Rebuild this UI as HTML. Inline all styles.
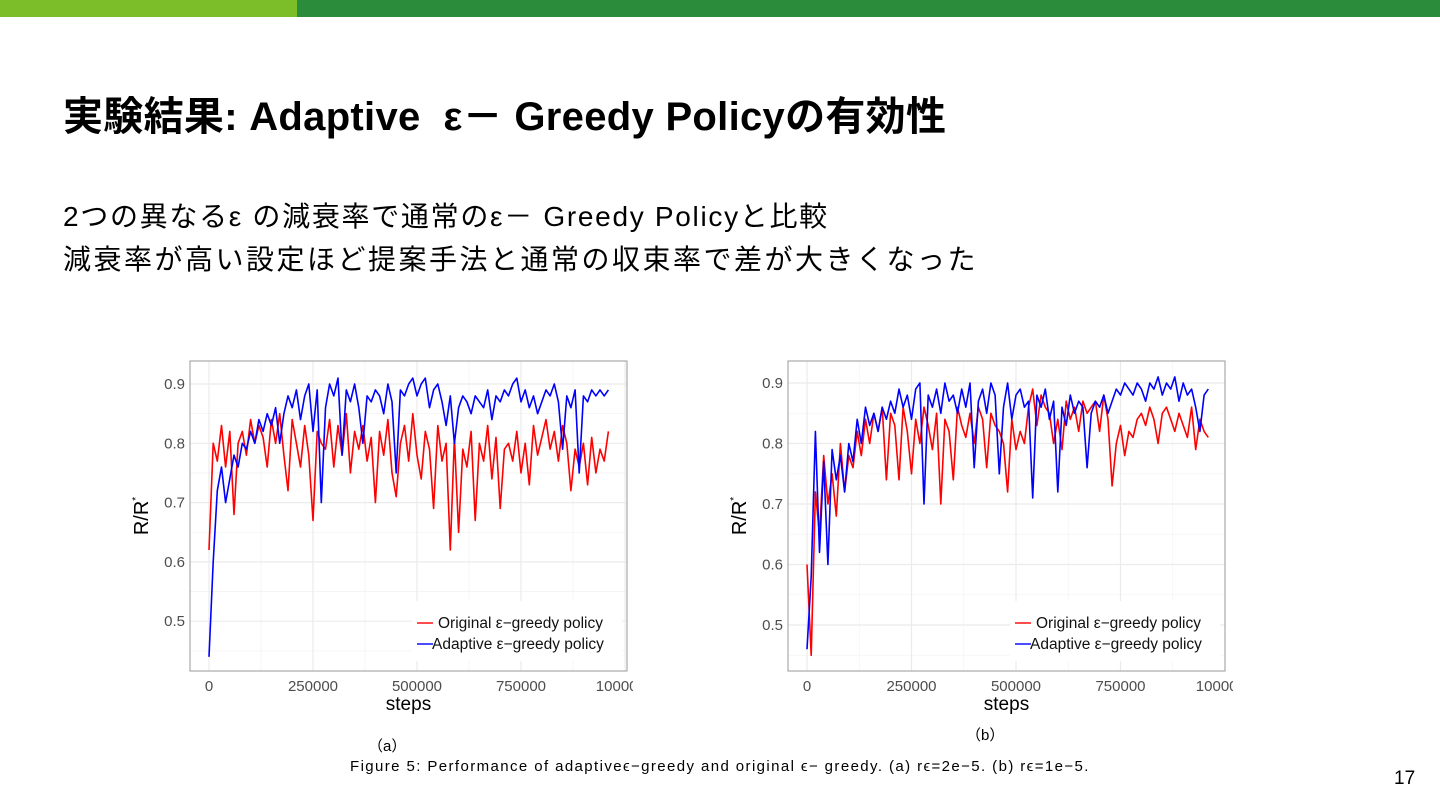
<!DOCTYPE html>
<html><head><meta charset="utf-8">
<style>
body{margin:0;width:1440px;height:810px;background:#fff;position:relative;overflow:hidden;font-family:"Liberation Sans","Noto Sans CJK JP",sans-serif;}
.abs{position:absolute;white-space:nowrap;}
</style></head>
<body>
<div class="abs" style="left:0;top:0;width:297px;height:17px;background:#7cbd2a"></div>
<div class="abs" style="left:297px;top:0;width:1143px;height:17px;background:#2b8c3b"></div>
<div class="abs" style="left:63px;top:84px;font-size:40px;font-weight:bold;color:#000;letter-spacing:0.3px">実験結果: Adaptive &nbsp;ε－ Greedy Policyの有効性</div>
<div class="abs" style="left:63px;top:195px;font-size:28px;color:#000;letter-spacing:1.7px">2つの異なるε の減衰率で通常のε－ Greedy Policyと比較</div>
<div class="abs" style="left:63px;top:238px;font-size:28px;color:#000;letter-spacing:2.5px">減衰率が高い設定ほど提案手法と通常の収束率で差が大きくなった</div>
<div class="abs" style="left:368px;top:735px;font-size:15px">（a）</div>
<div class="abs" style="left:966px;top:724px;font-size:15px">（b）</div>
<div class="abs" style="left:350px;top:758px;font-size:15px;letter-spacing:1.4px">Figure 5: Performance of adaptiveϵ−greedy and original ϵ− greedy. (a) rϵ=2e−5. (b) rϵ=1e−5.</div>
<div class="abs" style="left:1394px;top:768px;font-size:19px">17</div>
<svg id="svg" width="1440" height="810" style="position:absolute;left:0;top:0">
<defs>
<clipPath id="clipA"><rect x="120" y="350" width="513" height="370"/></clipPath>
<clipPath id="clipB"><rect x="718" y="350" width="515" height="370"/></clipPath>
</defs>
</svg>
<script>
const xTicks=[0,250000,500000,750000,1000000];
const xTickLabels=["0","250000","500000","750000","1000000"];
const yTicks=[0.5,0.6,0.7,0.8,0.9];
const yTickLabels=["0.5","0.6","0.7","0.8","0.9"];
const stepSize=10000;
const redA=[0.62,0.8,0.77,0.83,0.76,0.82,0.68,0.8,0.82,0.78,0.84,0.8,0.83,0.81,0.76,0.84,0.8,0.85,0.78,0.72,0.84,0.8,0.76,0.83,0.78,0.67,0.82,0.8,0.79,0.84,0.76,0.83,0.78,0.85,0.75,0.82,0.79,0.83,0.77,0.81,0.7,0.82,0.78,0.84,0.75,0.71,0.8,0.83,0.77,0.85,0.78,0.74,0.82,0.79,0.69,0.83,0.77,0.8,0.62,0.81,0.65,0.79,0.76,0.82,0.67,0.8,0.77,0.83,0.74,0.81,0.69,0.79,0.8,0.77,0.82,0.75,0.8,0.73,0.83,0.78,0.81,0.84,0.79,0.82,0.77,0.83,0.8,0.72,0.79,0.76,0.8,0.73,0.81,0.75,0.79,0.77,0.82];
const blueA=[0.44,0.6,0.72,0.76,0.7,0.74,0.78,0.76,0.8,0.79,0.82,0.8,0.84,0.82,0.85,0.83,0.86,0.8,0.85,0.88,0.86,0.89,0.84,0.88,0.9,0.82,0.89,0.7,0.86,0.9,0.88,0.91,0.78,0.89,0.87,0.9,0.86,0.8,0.88,0.87,0.89,0.88,0.85,0.9,0.87,0.75,0.89,0.88,0.9,0.91,0.88,0.9,0.91,0.86,0.89,0.9,0.87,0.83,0.88,0.8,0.86,0.88,0.87,0.85,0.88,0.87,0.86,0.89,0.84,0.88,0.87,0.89,0.88,0.9,0.91,0.87,0.89,0.86,0.88,0.85,0.87,0.89,0.88,0.9,0.87,0.79,0.88,0.86,0.89,0.75,0.88,0.87,0.89,0.88,0.89,0.88,0.89];
const redB=[0.6,0.45,0.72,0.65,0.78,0.7,0.75,0.68,0.8,0.72,0.78,0.76,0.82,0.78,0.84,0.8,0.85,0.82,0.86,0.74,0.85,0.83,0.74,0.86,0.82,0.75,0.84,0.8,0.86,0.83,0.79,0.85,0.7,0.84,0.82,0.74,0.86,0.83,0.81,0.85,0.8,0.86,0.84,0.76,0.85,0.83,0.82,0.8,0.72,0.84,0.79,0.82,0.8,0.86,0.89,0.83,0.88,0.86,0.85,0.8,0.84,0.79,0.87,0.84,0.86,0.82,0.87,0.85,0.86,0.87,0.82,0.88,0.84,0.73,0.8,0.83,0.78,0.82,0.81,0.84,0.85,0.83,0.86,0.84,0.8,0.85,0.86,0.84,0.82,0.85,0.83,0.81,0.86,0.79,0.84,0.82,0.81];
const blueB=[0.46,0.58,0.82,0.62,0.77,0.6,0.79,0.74,0.78,0.72,0.8,0.77,0.84,0.8,0.86,0.83,0.85,0.82,0.86,0.84,0.87,0.85,0.89,0.86,0.88,0.84,0.89,0.9,0.7,0.88,0.86,0.89,0.85,0.9,0.87,0.88,0.85,0.89,0.86,0.9,0.76,0.87,0.89,0.85,0.9,0.88,0.75,0.86,0.9,0.84,0.88,0.89,0.86,0.87,0.71,0.88,0.86,0.89,0.84,0.87,0.72,0.86,0.83,0.88,0.85,0.87,0.86,0.76,0.85,0.87,0.86,0.88,0.85,0.87,0.89,0.88,0.9,0.89,0.88,0.9,0.89,0.87,0.9,0.89,0.91,0.88,0.9,0.89,0.91,0.87,0.9,0.88,0.89,0.86,0.82,0.88,0.89];

const NS="http://www.w3.org/2000/svg";
const svg=document.getElementById('svg');
function mk(tag,attrs,parent){const e=document.createElementNS(NS,tag);for(const k in attrs)e.setAttribute(k,attrs[k]);parent.appendChild(e);return e;}

function chart(id,clip,left,right,top,bottom,x0,xPer,y9,yPer,red,blue,legX){
  const g=mk('g',{'clip-path':'url(#'+clip+')'},svg);
  
  
  const xs=v=>x0+v/250000*xPer;
  const ys=v=>y9+(0.9-v)/0.1*yPer;
  mk('rect',{x:left,y:top,width:right-left,height:bottom-top,fill:'#fff'},g);
  for(let i=0;i<xTicks.length-1;i++){const xv=(xTicks[i]+xTicks[i+1])/2;mk('line',{x1:xs(xv),x2:xs(xv),y1:top,y2:bottom,stroke:'#f3f3f3','stroke-width':0.8},g);}
  for(let i=0;i<yTicks.length;i++){const yv=yTicks[i]+0.05;if(ys(yv)>top)mk('line',{x1:left,x2:right,y1:ys(yv),y2:ys(yv),stroke:'#f3f3f3','stroke-width':0.8},g);}
  mk('line',{x1:left,x2:right,y1:ys(0.45),y2:ys(0.45),stroke:'#f3f3f3','stroke-width':0.8},g);
  xTicks.forEach((t,i)=>{
    if(xs(t)<right) mk('line',{x1:xs(t),x2:xs(t),y1:top,y2:bottom,stroke:'#ebebeb','stroke-width':1.2},g);
    const tx=mk('text',{x:xs(t),y:bottom+20,'text-anchor':'middle','font-size':'15','fill':'#4d4d4d','font-family':'Liberation Sans'},g);
    tx.textContent=xTickLabels[i];
    
    
  });
  yTicks.forEach((t,i)=>{
    mk('line',{x1:left,x2:right,y1:ys(t),y2:ys(t),stroke:'#ebebeb','stroke-width':1.2},g);
    const tx=mk('text',{x:left-5,y:ys(t)+5,'text-anchor':'end','font-size':'15','fill':'#4d4d4d','font-family':'Liberation Sans'},g);
    tx.textContent=yTickLabels[i];
    
    
  });
  const ser=[[red,'#ff0000','original-series'],[blue,'#0000ff','adaptive-series']];
  ser.forEach(s=>{
    const pts=s[0].map((v,i)=>xs(i*stepSize).toFixed(1)+','+ys(v).toFixed(1)).join(' ');
    const p=mk('polyline',{points:pts,fill:'none',stroke:s[1],'stroke-width':1.6,'stroke-linejoin':'round'},g);
    
    
  });
  mk('rect',{x:left,y:top,width:right-left,height:bottom-top,fill:'none',stroke:'#9a9a9a','stroke-width':1},g);
  const lg=mk('g',{},g);
  
  
  mk('rect',{x:legX-5,y:bottom-70,width:right-legX,height:60,fill:'#fff'},lg);
  [['Original ε−greedy policy','#ff0000',623],['Adaptive ε−greedy policy','#0000ff',644]].forEach((e,i)=>{
    const yy=e[2];
    mk('line',{x1:legX,x2:legX+16,y1:yy,y2:yy,stroke:e[1],'stroke-width':1.4},lg);
    const t=mk('text',{x:legX+(i==0?21:15),y:yy+5,'font-size':'15.5','fill':'#111','font-family':'Liberation Sans'},lg);
    t.textContent=e[0];
    
    
  });
  const xt=mk('text',{x:(left+right)/2,y:bottom+39,'text-anchor':'middle','font-size':'19','fill':'#000','font-family':'Liberation Sans'},g);
  xt.textContent='steps';
  
  
  const yt=mk('text',{transform:'translate('+(left-42)+','+((top+bottom)/2)+') rotate(-90)','text-anchor':'middle','font-size':'20','fill':'#000','font-family':'Liberation Sans'},g);
  yt.innerHTML='R/R<tspan dy="-9" font-size="10">*</tspan>';
  
  
}
chart('a','clipA',190,627,361,671,209,104,384,59.3,redA,blueA,417);
chart('b','clipB',788,1225,361,671,807,104.5,383,60.5,redB,blueB,1015);
</script>
</body></html>
